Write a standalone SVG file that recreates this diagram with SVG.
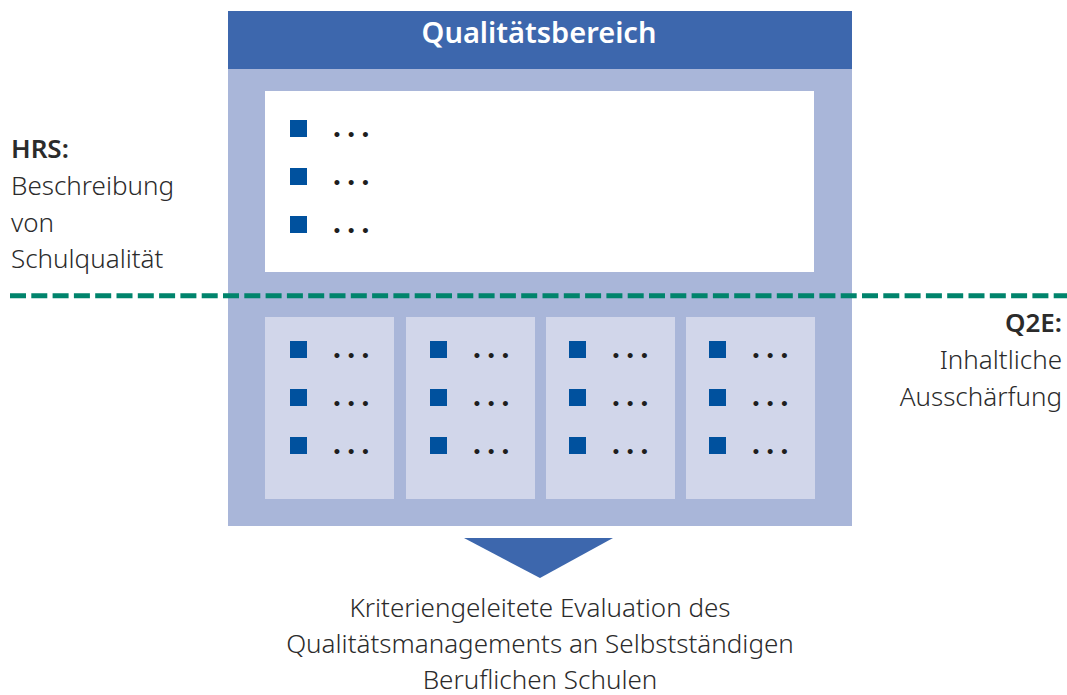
<svg xmlns="http://www.w3.org/2000/svg" width="1067" height="695" viewBox="0 0 1067 695">
<style>
.t{font-family:"Noto Sans","Open Sans","DejaVu Sans",sans-serif;fill:#2b2b2b;font-size:26px;font-weight:300}
.b{font-weight:600}
.sq{fill:#00519e}
.dots{font-family:Lato,"Noto Sans","DejaVu Sans",sans-serif;font-weight:bold;font-size:33px;fill:#1e1e1e;letter-spacing:6.4px}
.panel{fill:#d1d6ea}
</style>
<rect width="1067" height="695" fill="#fff"/>
<g id="qualitaetsbereich">
<rect x="228" y="11" width="624" height="515" fill="#a9b6d9"/>
<rect x="228" y="11" width="624" height="58" fill="#3d67ad"/>
<text x="539" y="43" text-anchor="middle" style="font-family:'Noto Sans','Open Sans',sans-serif;font-weight:600;font-size:29px;fill:#fff">Qualitätsbereich</text>
</g>
<g id="hrs-box">
<rect x="265" y="91" width="549" height="181" fill="#fff"/>
<rect class="sq" x="290" y="120" width="17" height="17"/>
<rect class="sq" x="290" y="168" width="17" height="17"/>
<rect class="sq" x="290" y="216" width="17" height="17"/>
<text class="dots" x="333" y="137">...</text>
<text class="dots" x="333" y="185">...</text>
<text class="dots" x="333" y="233">...</text>
</g>
<g id="panel1">
<rect class="panel" x="265" y="317" width="129" height="182"/>
<rect class="sq" x="290" y="341" width="17" height="17"/>
<rect class="sq" x="290" y="389" width="17" height="17"/>
<rect class="sq" x="290" y="437" width="17" height="17"/>
<text class="dots" x="333" y="358">...</text>
<text class="dots" x="333" y="406">...</text>
<text class="dots" x="333" y="454">...</text>
</g>
<g id="panel2">
<rect class="panel" x="406" y="317" width="129" height="182"/>
<rect class="sq" x="430" y="341" width="17" height="17"/>
<rect class="sq" x="430" y="389" width="17" height="17"/>
<rect class="sq" x="430" y="437" width="17" height="17"/>
<text class="dots" x="473" y="358">...</text>
<text class="dots" x="473" y="406">...</text>
<text class="dots" x="473" y="454">...</text>
</g>
<g id="panel3">
<rect class="panel" x="546" y="317" width="129" height="182"/>
<rect class="sq" x="569" y="341" width="17" height="17"/>
<rect class="sq" x="569" y="389" width="17" height="17"/>
<rect class="sq" x="569" y="437" width="17" height="17"/>
<text class="dots" x="612" y="358">...</text>
<text class="dots" x="612" y="406">...</text>
<text class="dots" x="612" y="454">...</text>
</g>
<g id="panel4">
<rect class="panel" x="686" y="317" width="129" height="182"/>
<rect class="sq" x="709" y="341" width="17" height="17"/>
<rect class="sq" x="709" y="389" width="17" height="17"/>
<rect class="sq" x="709" y="437" width="17" height="17"/>
<text class="dots" x="752" y="358">...</text>
<text class="dots" x="752" y="406">...</text>
<text class="dots" x="752" y="454">...</text>
</g>
<g id="connectors">
<line x1="10" y1="295.7" x2="1067" y2="295.7" stroke="#00846c" stroke-width="5" stroke-dasharray="16 5.3"/>
<polygon points="464,538 613,538 540,578" fill="#3d67ad"/>
</g>
<g id="hrs-label">
<text class="t b" x="11" y="158">HRS:</text>
<text class="t" x="11" y="195">Beschreibung</text>
<text class="t" x="11" y="232">von</text>
<text class="t" x="11" y="268">Schulqualität</text>
</g>
<g id="q2e-label">
<text class="t b" x="1062" y="332" text-anchor="end">Q2E:</text>
<text class="t" x="1062" y="369" text-anchor="end">Inhaltliche</text>
<text class="t" x="1062" y="406" text-anchor="end">Ausschärfung</text>
</g>
<g id="result">
<text class="t" x="540" y="617" text-anchor="middle">Kriteriengeleitete Evaluation des</text>
<text class="t" x="540" y="653" text-anchor="middle">Qualitätsmanagements an Selbstständigen</text>
<text class="t" x="540" y="689" text-anchor="middle">Beruflichen Schulen</text>
</g>
</svg>
